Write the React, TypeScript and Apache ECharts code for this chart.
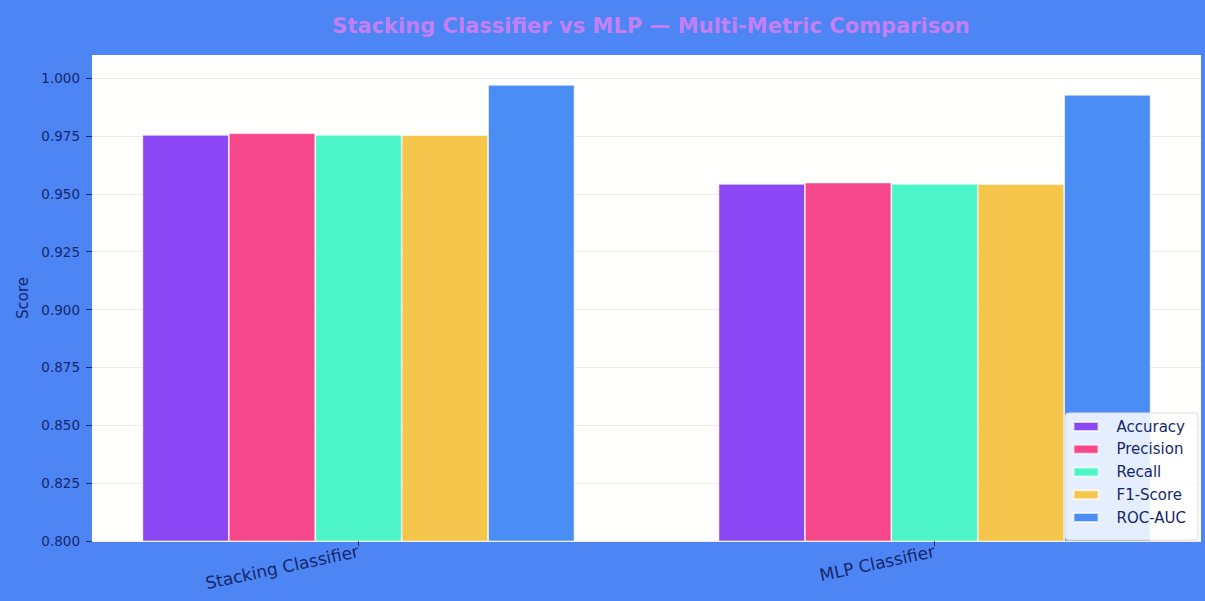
import React, { useEffect, useRef } from "react";
import * as echarts from "echarts";

const categories = ["Stacking Classifier", "MLP Classifier"];
const metrics = ["Accuracy", "Precision", "Recall", "F1-Score", "ROC-AUC"];
const accuracy = [0.9755, 0.9543];
const precision = [0.9762, 0.9549];
const recall = [0.9755, 0.9543];
const f1Score = [0.9754, 0.9542];
const rocAuc = [0.9971, 0.9928];
const yTicks = [0.8, 0.825, 0.85, 0.875, 0.9, 0.925, 0.95, 0.975, 1.0];
const colors = ["#8b47f4", "#f7478b", "#4cf5c7", "#f6c54b", "#4a8ef5"];

const seriesValues = [accuracy, precision, recall, f1Score, rocAuc];

export default function App() {
  const ref = useRef<HTMLDivElement>(null);
  useEffect(() => {
    if (!ref.current) return;
    const chart = echarts.init(ref.current, null, { renderer: "svg" });
    const font = "DejaVu Sans";
    const navy = "#16276b";
    chart.setOption({
      animation: false,
      backgroundColor: "#4d85f5",
      textStyle: { fontFamily: font },
      title: {
        text: "Stacking Classifier vs MLP — Multi-Metric Comparison",
        left: 646,
        textAlign: "center",
        top: 10,
        textStyle: { fontFamily: font, fontSize: 21, fontWeight: "bold", color: "#c47ff4" },
      },
      grid: { left: 92, right: 4, top: 55, bottom: 60, show: true, backgroundColor: "#fffffd", borderWidth: 0 },
      legend: {
        orient: "vertical",
        right: 7,
        bottom: 61,
        data: metrics,
        icon: "rect",
        itemWidth: 25,
        itemHeight: 9,
        itemGap: 7.75,
        padding: [6, 12, 15, 7],
        backgroundColor: "rgba(255,255,255,0.85)",
        borderColor: "#dddddd",
        borderWidth: 1,
        borderRadius: 3,
        textStyle: { fontFamily: font, fontSize: 15, color: navy, lineHeight: 15, padding: [0, 0, 0, 13] },
      },
      xAxis: {
        type: "value",
        min: -0.4625,
        max: 1.4625,
        splitLine: { show: false },
        axisLine: { show: false, onZero: false },
        axisTick: { show: true, customValues: [0, 1], length: 5, lineStyle: { color: navy } },
        axisLabel: {
          customValues: [0, 1],
          rotate: 12,
          margin: 10,
          fontSize: 17,
          color: navy,
          fontFamily: font,
          formatter: (v: number) => categories[Math.round(v)] ?? "",
        },
      },
      yAxis: {
        type: "value",
        min: 0.8,
        max: 1.01,
        name: "Score",
        nameLocation: "middle",
        nameGap: 61,
        nameTextStyle: { fontFamily: font, fontSize: 15, color: navy },
        axisLine: { show: false, onZero: false },
        axisTick: { show: true, customValues: yTicks, length: 6, lineStyle: { color: navy } },
        axisLabel: {
          customValues: yTicks,
          margin: 12,
          fontSize: 13.5,
          color: navy,
          fontFamily: font,
          formatter: (v: number) => v.toFixed(3),
        },
        splitLine: { show: true, lineStyle: { color: "#ecebe4", width: 1 } },
      },
      series: metrics.map((m, i) => ({
        name: m,
        type: "bar",
        data: seriesValues[i].map((v, j) => [j, v]),
        barWidth: "15%",
        barGap: "0%",
        itemStyle: { color: colors[i], borderColor: "rgba(255,255,255,0.7)", borderWidth: 0.8 },
      })),
    });
    return () => chart.dispose();
  }, []);
  return (
    <div
      ref={ref}
      style={{ position: "fixed", left: 0, top: 0, width: 1205, height: 601 }}
    />
  );
}
